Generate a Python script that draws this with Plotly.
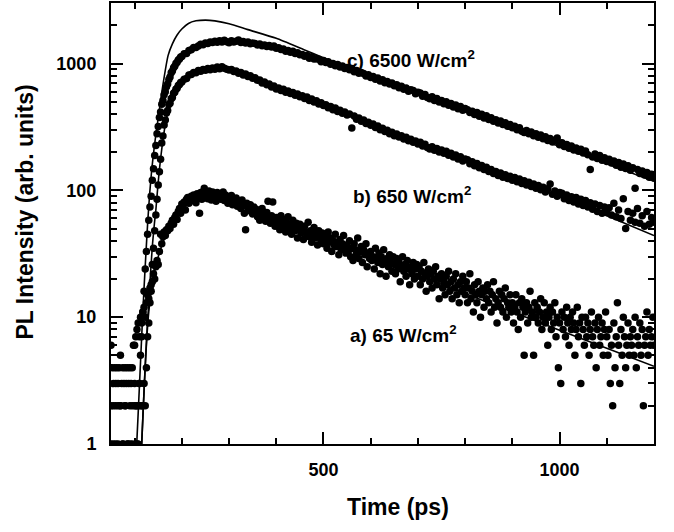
import numpy as np
import plotly.graph_objects as go

# ---------------- data ----------------
# time bins (ps)
time_a = np.arange(50, 1200.01, 2.5)
time_bc = np.concatenate([np.arange(50, 100.01, 5),
                          np.arange(102.5, 200.01, 2.5),
                          np.arange(205, 1200.01, 5)])

# a) 65 W/cm2  -- PL counts
counts_a = [
    6, 4, 3, 4, 3, 4, 3, 4, 5, 3, 4, 3, 4, 3, 4, 3, 4, 3, 4, 6,
    6, 7, 8, 9, 7, 10, 9, 11, 12, 10, 13, 15, 14, 17, 16, 19, 22, 20, 25, 28,
    26, 33, 45, 38, 43, 47, 44, 49, 48, 52, 50, 55, 58, 54, 61, 64, 59, 68, 72, 66,
    78, 74, 81, 70, 85, 88, 79, 84, 90, 83, 92, 87, 80, 94, 89, 66, 96, 85, 91, 104,
    88, 95, 86, 99, 91, 84, 97, 89, 93, 82, 96, 88, 94, 85, 90, 97, 83, 92, 86, 79,
    88, 81, 91, 77, 85, 80, 87, 75, 82, 78, 72, 84, 76, 66, 49, 79, 73, 69, 77, 70,
    65, 74, 68, 71, 62, 69, 58, 66, 72, 61, 64, 57, 67, 82, 60, 55, 63, 81, 58, 52,
    61, 54, 57, 49, 63, 56, 52, 59, 47, 55, 62, 50, 53, 45, 58, 51, 48, 55, 42, 50,
    54, 46, 49, 41, 52, 47, 44, 56, 43, 48, 39, 46, 51, 42, 45, 37, 48, 43, 40, 46,
    38, 44, 41, 35, 47, 39, 42, 33, 40, 37, 45, 36, 39, 31, 41, 34, 38, 44, 35, 32,
    37, 33, 40, 30, 35, 28, 38, 34, 31, 42, 29, 33, 36, 27, 34, 31, 38, 25, 32, 29,
    33, 28, 30, 24, 35, 29, 27, 32, 22, 30, 26, 34, 28, 21, 29, 25, 31, 27, 23, 30,
    26, 22, 29, 24, 27, 19, 25, 30, 23, 26, 21, 28, 24, 18, 25, 22, 27, 20, 24, 26,
    21, 25, 18, 23, 20, 27, 22, 16, 21, 24, 19, 22, 17, 23, 20, 25, 18, 21, 14, 20,
    22, 17, 19, 15, 21, 18, 23, 16, 19, 14, 20, 17, 22, 15, 18, 13, 19, 16, 21, 17,
    15, 19, 13, 17, 22, 14, 16, 11, 18, 15, 13, 19, 16, 10, 15, 17, 12, 16, 14, 18,
    13, 16, 11, 15, 19, 12, 14, 9, 13, 16, 12, 15, 11, 14, 17, 10, 13, 12, 15, 11,
    13, 9, 12, 15, 11, 8, 13, 10, 14, 12, 5, 11, 13, 9, 12, 16, 10, 11, 5, 13,
    10, 12, 9, 11, 14, 8, 10, 13, 9, 11, 6, 10, 12, 8, 11, 9, 13, 7, 10, 4,
    9, 3, 11, 8, 10, 7, 12, 9, 6, 10, 8, 11, 9, 5, 8, 12, 7, 9, 3, 10,
    8, 6, 10, 7, 9, 5, 8, 11, 7, 6, 9, 4, 8, 10, 6, 7, 9, 5, 8, 11,
    7, 5, 8, 3, 6, 2, 9, 4, 7, 13, 6, 3, 8, 5, 10, 7, 4, 6, 9, 5,
    7, 6, 8, 5, 10, 4, 7, 6, 9, 5, 8, 2, 6, 7, 11, 5, 8, 6, 7, 10,
    6,
]

# b) 650 W/cm2
counts_b = [
    2, 1, 2, 1, 2, 1, 2, 1, 2, 1, 3,
    2, 1, 2, 3, 2, 2, 2, 3, 2, 4, 7, 9, 13, 18, 26, 35, 48, 64, 85, 110,
    140, 176, 236, 268, 328, 358, 408, 426, 476, 485, 528, 540, 583, 594, 628, 638, 672, 684, 708, 716,
    752, 761, 812, 818, 851, 846, 880, 869, 898, 884,
    912, 893, 921, 902, 938, 910, 945, 917, 903, 889,
    897, 865, 872, 838, 851, 810, 826, 789, 799, 764,
    772, 738, 741, 702, 716, 679, 689, 652, 664, 630,
    641, 612, 627, 594, 608, 580, 592, 561, 576, 548,
    557, 531, 544, 512, 524, 498, 508, 479, 490, 466,
    473, 447, 458, 432, 445, 418, 429, 406, 415, 392,
    399, 310, 386, 364, 372, 350, 359, 337, 345, 326,
    333, 313, 321, 301, 309, 291, 298, 280, 287, 270,
    278, 263, 270, 254, 262, 246, 253, 239, 245, 232,
    239, 224, 231, 218, 212, 221, 207, 214, 201, 208,
    196, 203, 189, 196, 183, 190, 177, 184, 170, 177,
    174, 162, 168, 156, 163, 151, 157, 146, 152, 141,
    146, 136, 141, 131, 137, 127, 133, 124, 129, 120,
    126, 117, 123, 113, 119, 110, 116, 107, 112, 104,
    109, 101, 106, 97, 103, 112, 93, 99, 90, 96,
    95, 86, 92, 83, 89, 81, 88, 78, 85, 76,
    83, 74, 80, 71, 78, 68, 76, 66, 74, 67,
    73, 64, 79, 62, 70, 60, 86, 50, 68, 58,
    66, 56, 72, 55, 63, 52, 68, 54, 61, 56,
]

# c) 6500 W/cm2
counts_c = [
    1, 2, 1, 2, 2, 1, 2, 1, 1, 2, 2,
    1, 2, 1, 3, 5, 7, 11, 16, 24, 33, 45, 58, 74, 90, 120, 148, 188, 226, 280, 318,
    375, 415, 478, 510, 566, 598, 655, 688, 748, 782, 845, 872, 928, 951, 1002, 1021, 1068, 1083, 1126, 1138,
    1192, 1201, 1268, 1281, 1340, 1338, 1372, 1418, 1409, 1452,
    1438, 1481, 1462, 1499, 1470, 1510, 1476, 1528, 1485, 1460,
    1512, 1478, 1496, 1531, 1467, 1489, 1452, 1475, 1430, 1448,
    1441, 1398, 1428, 1379, 1402, 1361, 1385, 1350, 1372, 1318,
    1330, 1287, 1302, 1251, 1269, 1226, 1247, 1198, 1214, 1172,
    1180, 1143, 1155, 1101, 1130, 1083, 1092, 1079, 1032, 1056,
    1018, 1034, 985, 1001, 962, 981, 938, 957, 915, 930,
    894, 912, 861, 880, 838, 851, 835, 798, 815, 776,
    790, 752, 768, 729, 744, 706, 721, 690, 703, 668,
    680, 645, 662, 626, 641, 605, 622, 612, 578, 594,
    585, 552, 571, 540, 528, 546, 510, 529, 497, 512,
    482, 500, 468, 483, 455, 471, 440, 458, 429, 441,
    432, 410, 421, 396, 410, 384, 398, 372, 387, 362,
    373, 351, 361, 340, 352, 330, 341, 320, 330, 311,
    320, 301, 311, 293, 286, 297, 279, 289, 270, 280,
    262, 273, 255, 264, 247, 256, 240, 248, 259, 229,
    237, 222, 230, 215, 224, 208, 216, 203, 211, 197,
    204, 191, 146, 183, 193, 178, 188, 173, 181, 169,
    176, 164, 170, 158, 166, 152, 161, 149, 156, 144,
    151, 104, 146, 136, 142, 132, 138, 127, 134, 125,
]

# fitted model curves
fit_a_t = [115, 118, 122, 126, 130, 135, 140, 150, 160, 170, 180, 190, 200, 215, 230, 250,
           270, 300, 340, 387, 450, 500, 550, 600, 634, 700, 800, 900, 1000, 1100, 1200]
fit_a_y = [1, 1.8, 3.8, 7, 11, 16, 21, 30, 39, 48, 56, 64, 71, 79, 85, 89,
           89, 84, 73, 61, 49.3, 41.9, 35.4, 30, 26.7, 21.4, 15.4, 11, 7.9, 5.7, 4.1]

fit_b_t = [115, 118, 122, 126, 130, 134, 138, 142, 145, 148, 152, 156, 160, 165, 170, 180,
           190, 200, 215, 230, 250, 270, 290, 320, 360, 400, 450, 500, 550, 600, 650, 700,
           800, 900, 1000, 1100, 1200]
fit_b_y = [1, 1.8, 3.8, 7.5, 13, 23, 38, 55, 70, 95, 140, 190, 250, 330, 405, 530,
           630, 710, 795, 850, 890, 900, 890, 845, 750, 650, 545, 462, 393, 333, 282, 239,
           172, 124, 89, 63, 44]

fit_c_t = [104.5, 108, 112, 116, 120, 124, 128, 132, 136, 140, 145, 152, 160, 171, 180, 190,
           200, 214, 230, 250, 270, 300, 340, 400, 460, 530, 600, 700, 800, 900, 1000, 1100, 1200]
fit_c_y = [1, 1.9, 4, 8.5, 17, 32, 58, 95, 142, 195, 275, 420, 680, 1160, 1430, 1680,
           1870, 2070, 2170, 2200, 2170, 2060, 1850, 1580, 1280, 1000, 800, 580, 420, 305, 222, 162, 118]

labels = ["a) 65 W/cm<sup>2</sup>", "b) 650 W/cm<sup>2</sup>", "c) 6500 W/cm<sup>2</sup>"]
x_title = "Time (ps)"
y_title = "PL Intensity (arb. units)"

# ---------------- figure ----------------
FONT = "Liberation Sans, Arial, Helvetica, sans-serif"
fig = go.Figure()

for t, c in ((time_a, counts_a), (time_bc, counts_b), (time_bc, counts_c)):
    n = min(len(t), len(c))
    fig.add_trace(go.Scatter(x=list(t[:n]), y=c[:n], mode="markers",
                             marker=dict(color="black", size=7.5, line=dict(width=0)),
                             textfont=dict(family=FONT, size=12, color="black"),
                             hoverinfo="skip"))

for t, y in ((fit_a_t, fit_a_y), (fit_b_t, fit_b_y), (fit_c_t, fit_c_y)):
    fig.add_trace(go.Scatter(x=t, y=y, mode="lines",
                             line=dict(color="black", width=1.6, shape="spline", smoothing=0.6),
                             textfont=dict(family=FONT, size=12, color="black"),
                             hoverinfo="skip"))

L, R, T, B = 111, 20, 1, 88
W, H = 674, 532
pw, ph = W - L - R, H - T - B


def px(x):
    return (x - L) / pw


def py(y):
    return (H - B - y) / ph


axis_common = dict(showline=True, linewidth=2, linecolor="black", mirror="ticks",
                   ticks="inside", ticklen=12, tickwidth=2, tickcolor="black",
                   showgrid=False, zeroline=False, tickprefix="<b>", ticksuffix="</b>",
                   tickfont=dict(family=FONT, size=18, color="black"))

fig.update_layout(
    width=W, height=H,
    margin=dict(l=L, r=R, t=T, b=B, pad=0),
    paper_bgcolor="white", plot_bgcolor="white",
    showlegend=False,
    font=dict(family=FONT, size=12, color="black"),
    xaxis=dict(range=[50, 1200], tick0=0, dtick=500, ticklabelstandoff=8,
               minor=dict(ticks="inside", ticklen=6, tickwidth=2, tickcolor="black",
                          tick0=0, dtick=100, showgrid=False),
               **axis_common),
    yaxis=dict(type="log", range=[0, np.log10(3000)], tick0=0, dtick=1,
               exponentformat="none", ticklabelstandoff=9,
               minor=dict(ticks="inside", ticklen=6, tickwidth=2, tickcolor="black",
                          dtick="D1", showgrid=False),
               **axis_common),
)

ann_font = dict(family=FONT, size=19, color="black")
for text, (xp, yp) in zip(labels, [(348, 334), (351, 194), (345, 57)]):
    fig.add_annotation(text="<b>" + text + "</b>", x=px(xp), y=py(yp),
                       xref="paper", yref="paper",
                       xanchor="left", yanchor="middle", showarrow=False, font=ann_font)

fig.add_annotation(text="<b>" + x_title + "</b>", x=px(398), y=py(507),
                   xref="paper", yref="paper",
                   xanchor="center", yanchor="middle", showarrow=False,
                   font=dict(family=FONT, size=23, color="black"))
fig.add_annotation(text="<b>" + y_title + "</b>", x=px(25), y=py(211.5),
                   xref="paper", yref="paper",
                   xanchor="center", yanchor="middle", showarrow=False, textangle=-90,
                   font=dict(family=FONT, size=23, color="black"))

fig.write_html("out.html", config={"displayModeBar": False},
               post_script="document.body.style.margin='0px';")
